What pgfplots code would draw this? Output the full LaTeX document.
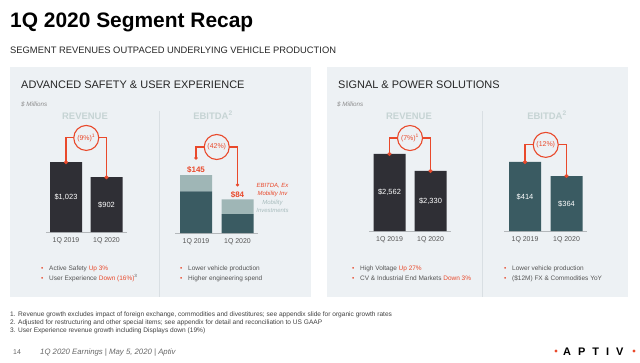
\documentclass[border=0pt]{standalone}
\usepackage{fontspec}
\setmainfont{Liberation Sans}
\usepackage{pgfplots}
\pgfplotsset{compat=1.18}

\definecolor{panelbg}{HTML}{EDF1F4}
\definecolor{revbar}{HTML}{2F2F35}
\definecolor{tealbar}{HTML}{3A5B62}
\definecolor{ltealbar}{HTML}{9FB6B6}
\definecolor{aptred}{HTML}{E9492B}
\definecolor{hdr}{HTML}{C6D4D4}
\definecolor{txt}{HTML}{555555}
\definecolor{basegray}{HTML}{B4B8BB}
\definecolor{divider}{HTML}{D9DFE3}
\definecolor{mobil}{HTML}{A9BDBE}

\newcommand\fs[1]{\fontsize{#1}{#1}\selectfont}

\tikzset{
  conn/.style={draw=aptred, line width=1.1bp},
  pct/.style={circle, draw=aptred, line width=1.1bp, fill=panelbg, minimum size=25bp,
    inner sep=0pt, text=aptred, font=\fs{7}},
  inbar/.style={text=white, font=\fs{7.5}},
  tl/.style={anchor=base west, inner sep=0pt},
}

\pgfplotsset{
  seg/.style={
    anchor=south west, scale only axis, height=100bp,
    xmin=-0.5, xmax=1.5,
    axis x line=bottom, axis y line=none,
    x axis line style={-, draw=basegray, line width=0.9bp},
    xtick={0,1}, xticklabels={1Q 2019,1Q 2020},
    major tick length=0pt,
    xticklabel style={font=\fs{7}, text=txt, anchor=north, inner sep=0pt, yshift=-5.5bp},
    clip mode=individual,
  },
  bars/.style={ybar, bar width=32bp, draw=none, fill=#1},
  dots/.style={only marks, mark=*, mark size=1.8bp, color=aptred},
}

\begin{document}
\begin{tikzpicture}[x=1bp, y=1bp]
\useasboundingbox (0,0) rectangle (640,362);

% slide furniture, positioned from the top-left corner
\begin{scope}[shift={(0,362)}, y=-1bp]
  \fill[panelbg] (10,67) rectangle (311,297);
  \fill[panelbg] (327,67) rectangle (628,297);
  \draw[divider, line width=0.8bp] (159,111) -- (159,297);
  \draw[divider, line width=0.8bp] (482,111) -- (482,297);

  \node[tl, font=\bfseries\fs{21}] at (10,27) {1Q 2020 Segment Recap};
  \node[tl, font=\fs{9.4}, text=black!85] at (10,53) {SEGMENT REVENUES OUTPACED UNDERLYING VEHICLE PRODUCTION};

  \node[tl, font=\fs{11}, text=black!85] at (21,88.5) {ADVANCED SAFETY \& USER EXPERIENCE};
  \node[tl, font=\fs{11}, text=black!85] at (338,88.5) {SIGNAL \& POWER SOLUTIONS};
  \node[tl, font=\itshape\fs{6.3}, text=black!45] at (21,106) {\$ Millions};
  \node[tl, font=\itshape\fs{6.3}, text=black!45] at (337,106) {\$ Millions};

  \node[anchor=base, inner sep=0pt, font=\bfseries\fs{9.5}, text=hdr] at (85,119) {REVENUE};
  \node[anchor=base, inner sep=0pt, font=\bfseries\fs{9.5}, text=hdr] at (213,119) {EBITDA\textsuperscript{2}};
  \node[anchor=base, inner sep=0pt, font=\bfseries\fs{9.5}, text=hdr] at (409,119) {REVENUE};
  \node[anchor=base, inner sep=0pt, font=\bfseries\fs{9.5}, text=hdr] at (547,119) {EBITDA\textsuperscript{2}};

  % EBITDA excluding mobility note
  \node[anchor=base, inner sep=0pt, font=\itshape\fs{6}, text=aptred] at (272.5,187) {EBITDA, Ex};
  \node[anchor=base, inner sep=0pt, font=\itshape\fs{6}, text=aptred] at (272.5,195) {Mobility Inv};
  \node[anchor=base, inner sep=0pt, font=\itshape\fs{6}, text=mobil] at (272.5,204) {Mobility};
  \node[anchor=base, inner sep=0pt, font=\itshape\fs{6}, text=mobil] at (272.5,212) {Investments};

  % bullet lists
  \begin{scope}[every node/.style={tl, font=\fs{6.5}, text=txt}]
    \foreach \bx in {41,180,352,504} {
      \node[text=aptred] at (\bx,270) {•};
      \node[text=aptred] at (\bx,280) {•};
    }
    \node at (49,270) {Active Safety \textcolor{aptred}{Up 3\%}};
    \node at (49,280) {User Experience \textcolor{aptred}{Down (16\%)}\textsuperscript{3}};
    \node at (188,270) {Lower vehicle production};
    \node at (188,280) {Higher engineering spend};
    \node at (360,270) {High Voltage \textcolor{aptred}{Up 27\%}};
    \node at (360,280) {CV \& Industrial End Markets \textcolor{aptred}{Down 3\%}};
    \node at (512,270) {Lower vehicle production};
    \node at (512,280) {(\$12M) FX \& Commodities YoY};
  \end{scope}

  % footnotes
  \begin{scope}[every node/.style={tl, font=\fs{6.6}, text=black!75}]
    \node at (10,316) {1. Revenue growth excludes impact of foreign exchange, commodities and divestitures; see appendix slide for organic growth rates};
    \node at (10,324) {2. Adjusted for restructuring and other special items; see appendix for detail and reconciliation to US GAAP};
    \node at (10,332) {3. User Experience revenue growth including Displays down (19\%)};
  \end{scope}

  \node[tl, font=\fs{7}, text=black!60] at (13,354) {14};
  \node[tl, font=\itshape\fs{7.8}, text=black!60] at (40,354) {1Q 2020 Earnings | May 5, 2020 | Aptiv};

  % logo
  \node[tl, font=\bfseries\fs{11}] at (563,355) {A\hspace{7bp}P\hspace{7bp}T\hspace{7bp}I\hspace{7bp}V};
  \fill[aptred] (556,351) circle (1.6bp);
  \fill[aptred] (634,351) circle (1.6bp);
\end{scope}

% Advanced Safety & User Experience: revenue
\begin{axis}[seg, at={(45.75bp,130bp)}, width=81bp, ymin=460, ymax=1267]
  \addplot[bars=revbar] coordinates {(0,1023) (1,902)};
  \addplot[dots] coordinates {(0,1023) (1,902)};
  \node[inbar] at (axis cs:0,741.5) {\$1,023};
  \node[inbar] at (axis cs:1,681) {\$902};
  \draw[conn] (axis cs:0,1023) |- ([xshift=-12.5bp]axis cs:0.5,1219);
  \draw[conn] ([xshift=12.5bp]axis cs:0.5,1219) -| (axis cs:1,902);
  \node[pct] at (axis cs:0.5,1219) {(9\%)\textsuperscript{1}};
\end{axis}

% Advanced Safety & User Experience: EBITDA, split into ex-mobility and mobility investments
\begin{axis}[seg, at={(175.25bp,129bp)}, width=83bp, ymin=0, ymax=250,
    ybar stacked, bar width=32bp]
  \addplot[draw=none, fill=tealbar] coordinates {(0,104) (1,47)};
  \addplot[draw=none, fill=ltealbar] coordinates {(0,41) (1,37)};
  \node[inbar] at (axis cs:0,52) {\$104};
  \node[inbar] at (axis cs:1,23.5) {\$47};
  \node[inbar] at (axis cs:0,124.5) {\$41};
  \node[inbar] at (axis cs:1,65.5) {\$37};
  \node[anchor=south, inner sep=1.5bp, text=aptred, font=\bfseries\fs{8}] at (axis cs:0,145) {\$145};
  \node[anchor=south, inner sep=1.5bp, text=aptred, font=\bfseries\fs{8}] at (axis cs:1,84) {\$84};
  \draw[conn] ([yshift=17bp]axis cs:0,145) |- ([xshift=-12.5bp]axis cs:0.5,215);
  \draw[conn] ([xshift=12.5bp]axis cs:0.5,215) -| ([yshift=14.5bp]axis cs:1,84);
  \fill[aptred] ([yshift=17bp]axis cs:0,145) circle (1.8bp);
  \fill[aptred] ([yshift=14.5bp]axis cs:1,84) circle (1.8bp);
  \node[pct] at (axis cs:0.5,215) {(42\%)};
\end{axis}

% Signal & Power Solutions: revenue
\begin{axis}[seg, at={(369bp,131bp)}, width=82bp, ymin=1510, ymax=2876]
  \addplot[bars=revbar] coordinates {(0,2562) (1,2330)};
  \addplot[dots] coordinates {(0,2562) (1,2330)};
  \node[inbar] at (axis cs:0,2036) {\$2,562};
  \node[inbar] at (axis cs:1,1920) {\$2,330};
  \draw[conn] (axis cs:0,2562) |- ([xshift=-12.5bp]axis cs:0.5,2780);
  \draw[conn] ([xshift=12.5bp]axis cs:0.5,2780) -| (axis cs:1,2330);
  \node[pct] at (axis cs:0.5,2780) {(7\%)\textsuperscript{1}};
\end{axis}

% Signal & Power Solutions: EBITDA
\begin{axis}[seg, at={(504.25bp,131bp)}, width=83bp, ymin=168, ymax=524.5]
  \addplot[bars=tealbar] coordinates {(0,414) (1,364)};
  \addplot[dots] coordinates {(0,414) (1,364)};
  \node[inbar] at (axis cs:0,291) {\$414};
  \node[inbar] at (axis cs:1,266) {\$364};
  \draw[conn] (axis cs:0,414) |- ([xshift=-12.5bp]axis cs:0.5,475);
  \draw[conn] ([xshift=12.5bp]axis cs:0.5,475) -| (axis cs:1,364);
  \node[pct] at (axis cs:0.5,475) {(12\%)};
\end{axis}
\end{tikzpicture}
\end{document}
